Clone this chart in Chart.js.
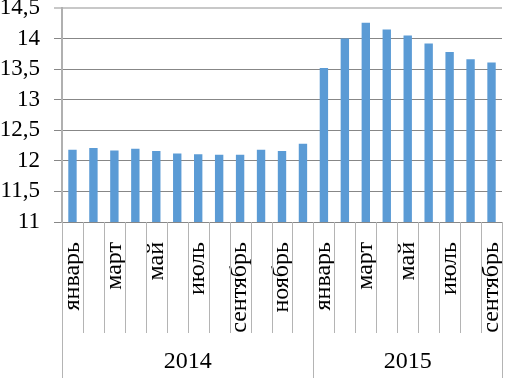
<!DOCTYPE html>
<html>
<head>
<meta charset="utf-8">
<script src="https://cdn.jsdelivr.net/npm/chart.js@4"></script>
<style>
  html, body { margin: 0; padding: 0; background: #fff; overflow: hidden; }
  #wrap { width: 506px; height: 378px; position: relative; }
</style>
</head>
<body>
<div id="wrap"><canvas id="chart"></canvas></div>
<script>
// месяцы по порядку
const months = ['январь', 'февраль', 'март', 'апрель', 'май', 'июнь', 'июль', 'август', 'сентябрь', 'октябрь', 'ноябрь', 'декабрь',
                'январь', 'февраль', 'март', 'апрель', 'май', 'июнь', 'июль', 'август', 'сентябрь'];
const values2014 = [12.18, 12.21, 12.17, 12.2, 12.16, 12.12, 12.11, 12.1, 12.1, 12.18, 12.16, 12.28];
const values2015 = [13.52, 14.0, 14.26, 14.15, 14.05, 13.92, 13.78, 13.66, 13.61];
const years = ['2014', '2015'];
const yearCounts = [values2014.length, values2015.length];
const yMin = 11, yMax = 14.5, yStep = 0.5;

const serif = '"Liberation Serif", "Times New Roman", serif';

// разделители и подписи годов под осью
const yearRowPlugin = {
    id: 'yearRow',
    afterDraw(chart) {
        const x = chart.scales.x;
        const ctx = chart.ctx;
        const top = chart.chartArea.bottom;
        const band = x.getPixelForValue(1) - x.getPixelForValue(0);
        const edge = i => x.getPixelForValue(i) - band / 2;
        const groupEnds = [0];
        yearCounts.forEach(c => groupEnds.push(groupEnds[groupEnds.length - 1] + c));

        ctx.save();
        ctx.strokeStyle = '#b4b4b4';
        ctx.lineWidth = 1;
        for (let i = 0; i <= months.length; i++) {
            const px = Math.round(edge(i)) + 0.5;
            const isYear = groupEnds.includes(i);
            ctx.beginPath();
            ctx.moveTo(px, top);
            ctx.lineTo(px, isYear ? chart.height : 333);
            ctx.stroke();
        }
        ctx.fillStyle = '#000';
        ctx.font = '24px ' + serif;
        ctx.textAlign = 'center';
        ctx.textBaseline = 'middle';
        years.forEach((y, k) => {
            const cx = (edge(groupEnds[k]) + edge(groupEnds[k + 1])) / 2;
            ctx.fillText(y, cx, 362);
        });
        ctx.restore();
    }
};

new Chart(document.getElementById('chart'), {
    type: 'bar',
    data: {
        labels: months,
        datasets: [{
            data: values2014.concat(values2015),
            backgroundColor: '#5b9bd5',
            categoryPercentage: 1,
            barPercentage: 0.4
        }]
    },
    options: {
        responsive: true,
        maintainAspectRatio: false,
        animation: false,
        layout: { padding: { top: 8, right: 4, left: 0, bottom: 0 } },
        plugins: {
            legend: { display: false },
            tooltip: { enabled: false }
        },
        scales: {
            x: {
                grid: { display: false },
                border: { display: false },
                afterFit(scale) {
                    scale.height = 156;
                    scale.paddingLeft = 0;
                    scale.paddingRight = 0;
                },
                ticks: {
                    autoSkip: false,
                    minRotation: 90,
                    maxRotation: 90,
                    padding: 12,
                    color: '#000',
                    font: { family: serif, size: 24 },
                    callback: (v, i) => (i % 2 === 0 ? months[i] : '')
                }
            },
            y: {
                min: yMin,
                max: yMax,
                afterFit(scale) {
                    scale.width = 62;
                    scale.paddingTop = 0;
                    scale.paddingBottom = 0;
                },
                ticks: {
                    stepSize: yStep,
                    autoSkip: false,
                    padding: 14,
                    color: '#000',
                    font: { family: serif, size: 23 },
                    callback: v => String(v).replace('.', ',')
                },
                grid: {
                    tickLength: 8,
                    color: c => (c.tick && c.tick.value === yMax ? '#c8c8c8' : '#878787'),
                    lineWidth: c => (c.tick && c.tick.value === yMax ? 2 : 1)
                },
                border: { color: '#b0b0b0', width: 2 }
            }
        }
    },
    plugins: [yearRowPlugin]
});
</script>
</body>
</html>
